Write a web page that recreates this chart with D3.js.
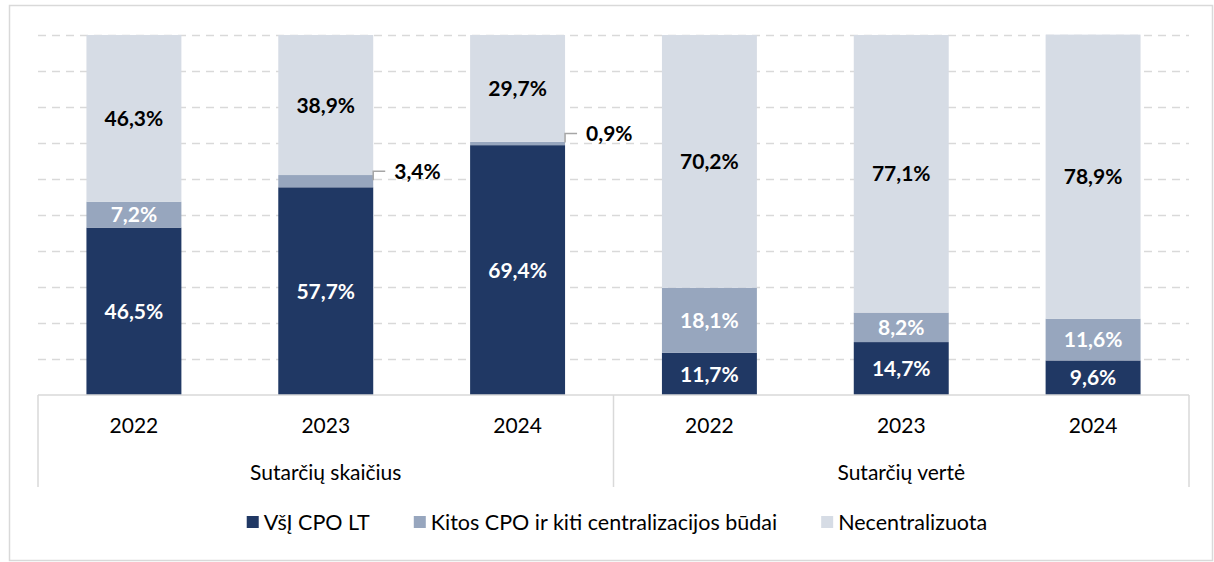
<!DOCTYPE html>
<html>
<head>
<meta charset="utf-8">
<script src="https://cdn.jsdelivr.net/npm/d3@7"></script>
<style>
  body { margin: 0; background: #fff; }
  svg { display: block; font-family: Lato, "Open Sans", sans-serif; }
  .grid line { stroke: #d9d9d9; stroke-width: 1.5; stroke-dasharray: 8,6; }
  .grid .domain { display: none; }
  .frame { stroke: #d9d9d9; stroke-width: 1.5; fill: none; }
</style>
</head>
<body>
<svg id="chart"></svg>
<script>
// Chart data
const groups = ['Sutarčių skaičius', 'Sutarčių vertė'];
const years = ['2022', '2023', '2024'];
const seriesNames = ['VšĮ CPO LT', 'Kitos CPO ir kiti centralizacijos būdai', 'Necentralizuota'];
const vsjCpoLt = [46.5, 57.7, 69.4, 11.7, 14.7, 9.6];
const kitosCpo = [7.2, 3.4, 0.9, 18.1, 8.2, 11.6];
const necentralizuota = [46.3, 38.9, 29.7, 70.2, 77.1, 78.9];
const gridTicks = [10, 20, 30, 40, 50, 60, 70, 80, 90, 100];

const colors = ['#203864', '#97a6be', '#d6dce5'];
const labelColors = ['#ffffff', '#ffffff', '#000000'];

const config = {
  width: 1214,
  height: 562,
  margin: {top: 35, right: 25, bottom: 167, left: 38}
};

// rows: one per bar
const rows = [];
groups.forEach((g, gi) => {
  years.forEach((yr, yi) => {
    const i = gi * years.length + yi;
    rows.push({
      group: g, year: yr, key: g + '|' + yr,
      s0: vsjCpoLt[i], s1: kitosCpo[i], s2: necentralizuota[i]
    });
  });
});

const svg = d3.select('#chart')
  .attr('width', config.width)
  .attr('height', config.height);

const x0 = config.margin.left;
const x1 = config.width - config.margin.right;
const yBase = config.height - config.margin.bottom;

const xGroup = d3.scaleBand().domain(groups).range([x0, x1]);
const xYear = d3.scaleBand().domain(years)
  .range([0, xGroup.bandwidth()])
  .paddingInner(0.505)
  .paddingOuter(0.2525);
const y = d3.scaleLinear().domain([0, 100]).range([yBase, config.margin.top]);

// outer frame
svg.append('rect').attr('class', 'frame')
  .attr('x', 9.5).attr('y', 5.5)
  .attr('width', 1203).attr('height', 555);

// dashed gridlines
svg.append('g')
  .attr('class', 'grid')
  .attr('transform', `translate(${x0},0)`)
  .call(d3.axisLeft(y).tickValues(gridTicks).tickSize(-(x1 - x0)).tickFormat(''));

// stacked bars
const stack = d3.stack().keys(['s0', 's1', 's2']);
const stacked = stack(rows);

const barX = d => xGroup(d.data.group) + xYear(d.data.year);

const layers = svg.append('g').selectAll('g')
  .data(stacked)
  .join('g')
  .attr('fill', (d, i) => colors[i]);

layers.selectAll('rect')
  .data(d => d)
  .join('rect')
  .attr('x', barX)
  .attr('width', xYear.bandwidth())
  .attr('y', d => y(d[1]))
  .attr('height', d => y(d[0]) - y(d[1]));

// value labels
const fmt = v => v.toFixed(1).replace('.', ',') + '%';
const labels = svg.append('g')
  .attr('font-size', 21)
  .attr('font-weight', 'bold');

stacked.forEach((layer, li) => {
  layer.forEach(d => {
    const v = d[1] - d[0];
    const mid = (y(d[0]) + y(d[1])) / 2;
    if (v < 5) {
      // small segment: label outside with leader line
      const bx = barX(d) + xYear.bandwidth();
      const ly = mid - 10;
      svg.append('path')
        .attr('d', `M${bx},${mid - 1}V${ly}H${bx + 12}`)
        .attr('fill', 'none')
        .attr('stroke', '#a6a6a6')
        .attr('stroke-width', 1.5);
      labels.append('text')
        .attr('x', bx + 21)
        .attr('y', ly)
        .attr('dy', '0.36em')
        .attr('fill', '#000')
        .text(fmt(v));
    } else {
      labels.append('text')
        .attr('x', barX(d) + xYear.bandwidth() / 2)
        .attr('y', mid)
        .attr('dy', '0.36em')
        .attr('text-anchor', 'middle')
        .attr('fill', labelColors[li])
        .text(fmt(v));
    }
  });
});

// multi-level category axis
const axisG = svg.append('g').attr('stroke', '#d9d9d9').attr('stroke-width', 1.5);
axisG.append('line')
  .attr('x1', x0).attr('x2', x1)
  .attr('y1', yBase).attr('y2', yBase);
const dividers = [x0].concat(groups.map(g => xGroup(g) + xGroup.bandwidth()));
axisG.selectAll('.div')
  .data(dividers)
  .join('line')
  .attr('x1', d => d).attr('x2', d => d)
  .attr('y1', yBase).attr('y2', yBase + 92);

const tickText = svg.append('g')
  .attr('font-size', 21)
  .attr('fill', '#000')
  .attr('text-anchor', 'middle');

rows.forEach(r => {
  tickText.append('text')
    .attr('x', xGroup(r.group) + xYear(r.year) + xYear.bandwidth() / 2)
    .attr('y', yBase + 30)
    .attr('dy', '0.36em')
    .text(r.year);
});
groups.forEach(g => {
  tickText.append('text')
    .attr('x', xGroup(g) + xGroup.bandwidth() / 2)
    .attr('y', yBase + 77)
    .attr('dy', '0.36em')
    .text(g);
});

// legend
const legend = svg.append('g').attr('font-size', 21.5);
const items = legend.selectAll('g')
  .data(seriesNames)
  .join('g');
items.append('rect')
  .attr('width', 12).attr('height', 12)
  .attr('y', 516)
  .attr('fill', (d, i) => colors[i]);
items.append('text')
  .attr('x', 17)
  .attr('y', 522)
  .attr('dy', '0.36em')
  .attr('fill', '#000')
  .text(d => d);

let widths = [];
items.each(function() {
  widths.push(this.querySelector('text').getComputedTextLength() + 17);
});
const gap = 44;
const total = d3.sum(widths) + gap * (widths.length - 1);
let cx = 617 - total / 2;
items.attr('transform', (d, i) => {
  const t = `translate(${cx},0)`;
  cx += widths[i] + gap;
  return t;
});
</script>
</body>
</html>
